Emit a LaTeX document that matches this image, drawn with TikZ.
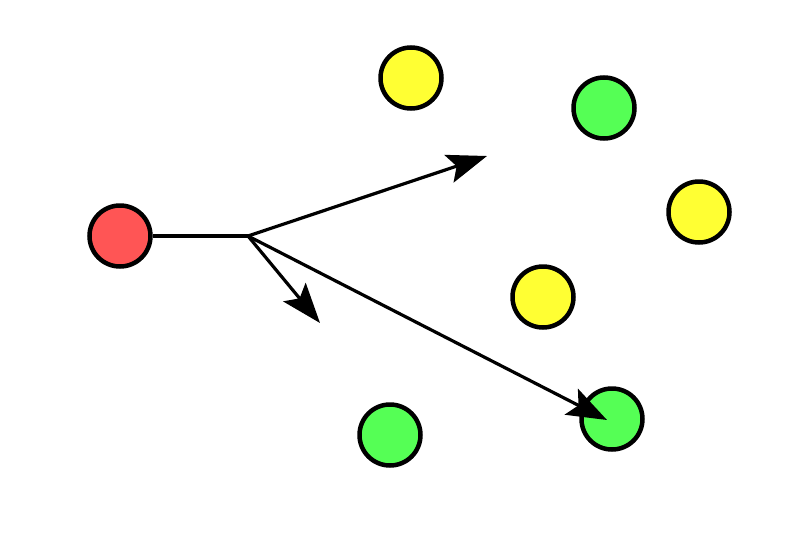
\documentclass[tikz,border=0pt]{standalone}
\usepackage{tikz}
\usetikzlibrary{arrows.meta}

\tikzset{
    dot/.style = {circle, draw, line width = 4.5pt, minimum size = 61pt, inner sep = 0},
    push/.style = {line width = 3.2pt, -{Stealth[length = 40pt, width = 29pt, inset = 8pt]}}
}
\definecolor{dotred}{HTML}{FF5555}
\definecolor{dotyellow}{HTML}{FFFF33}
\definecolor{dotgreen}{HTML}{55FF55}

\begin{document}
\begin{tikzpicture}[x = 1pt, y = -1pt]
        \useasboundingbox (0,0) rectangle (800,533);
        \node[dot, fill = dotred] (start) at (120,236) {};
        \node[dot, fill = dotyellow] (y1) at (411,78) {};
        \node[dot, fill = dotgreen] (g1) at (604,108) {};
        \node[dot, fill = dotyellow] (y2) at (699,212) {};
        \node[dot, fill = dotyellow] (y3) at (543,297) {};
        \node[dot, fill = dotgreen] (g2) at (612,419) {};
        \node[dot, fill = dotgreen] (g3) at (390,435) {};

        \coordinate (fork) at (248,236);
        \coordinate (tipA) at (487,156);
        \coordinate (tipB) at (320,323);
        \coordinate (tipC) at (607,420);

        \draw[line width = 3.2pt] (start) -- (fork);
        \draw[push] (fork) -- (tipA);
        \draw[push] (fork) -- (tipB);
        \draw[push] (fork) -- (tipC);
    \end{tikzpicture}
\end{document}
